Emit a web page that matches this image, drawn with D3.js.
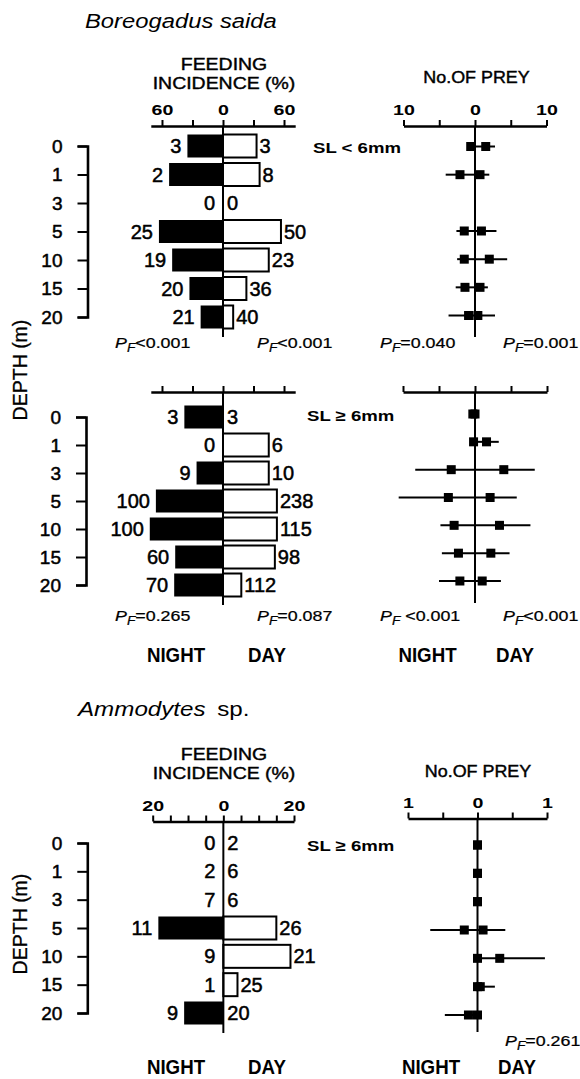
<!DOCTYPE html>
<html>
<head>
<meta charset="utf-8">
<script src="https://cdn.jsdelivr.net/npm/d3@7"></script>
<style>
  html, body { margin: 0; padding: 0; background: #fff; }
  svg { display: block; }
  text { font-family: "Liberation Sans", Arial, Helvetica, sans-serif; fill: #000; }
</style>
</head>
<body>
<svg id="chart" width="580" height="1079"></svg>
<script>
// ---------- data ----------
const depths = ["0", "1", "3", "5", "10", "15", "20"];

// Boreogadus saida, SL < 6mm
const cod1NightPct = [35, 53, 0, 63, 50, 33, 22];
const cod1DayPct   = [33, 36, 0, 57, 45, 23, 10];
const cod1NightN   = [3, 2, 0, 25, 19, 20, 21];
const cod1DayN     = [3, 8, 0, 50, 23, 36, 40];
const cod1NightPrey = [0.6, 2.1, null, 1.5, 1.5, 1.4, 0.9];
const cod1NightSE   = [0.3, 2.0, null, 1.1, 1.0, 1.3, 2.8];
const cod1DayPrey   = [1.5, 0.7, null, 0.9, 2.0, 0.7, 0.4];
const cod1DaySE     = [1.3, 1.3, null, 2.1, 2.5, 1.1, 2.4];
const cod1Stats = ["<0.001", "<0.001", "=0.040", "=0.001"];

// Boreogadus saida, SL >= 6mm
const cod2NightPct = [38, 0, 26, 66, 72, 47, 48];
const cod2DayPct   = [0, 45, 45, 53, 53, 51, 18];
const cod2NightN   = [3, 0, 9, 100, 100, 60, 70];
const cod2DayN     = [3, 6, 10, 238, 115, 98, 112];
const cod2NightPrey = [0.3, 0.2, 3.3, 3.7, 2.9, 2.3, 2.1];
const cod2NightSE   = [0, 0, 5.0, 6.9, 1.9, 2.3, 2.9];
const cod2DayPrey   = [0, 1.6, 4.0, 2.1, 3.4, 2.2, 1.0];
const cod2DaySE     = [0, 1.7, 4.3, 3.7, 4.3, 2.6, 2.6];
const cod2Stats = ["=0.265", "=0.087", " <0.001", "<0.001"];

// Ammodytes sp., SL >= 6mm
const sandNightPct = [0, 0, 0, 18.4, 0, 0, 11.1];
const sandDayPct   = [0, 0, 0, 15, 19, 4, 0];
const sandNightN   = [0, 2, 7, 11, 9, 1, 9];
const sandDayN     = [2, 6, 6, 26, 21, 25, 20];
const sandNightPrey = [0, 0, 0, 0.19, 0, 0, 0.13];
const sandNightSE   = [0, 0, 0, 0.49, 0, 0, 0.34];
const sandDayPrey   = [0, 0, 0, 0.08, 0.32, 0.04, 0];
const sandDaySE     = [0, 0, 0, 0.32, 0.65, 0.21, 0];
const sandStats = [null, null, null, "=0.261"];

// axis ticks
const feedTicksCod  = [-60, -30, 0, 30, 60];
const feedLabelsCod = [-60, 0, 60];
const preyTicksCod  = [-10, -5, 0, 5, 10];
const preyLabelsCod = [-10, 0, 10];
const feedTicksSand  = [-20, -15, -10, -5, 0, 5, 10, 15, 20];
const feedLabelsSand = [-20, 0, 20];
const preyTicksSand  = [-1, -0.5, 0, 0.5, 1];
const preyLabelsSand = [-1, 0, 1];

// ---------- drawing ----------
const svg = d3.select("#chart");
const INK = "#000";

function label(g, x, y, s, o = {}) {
  const t = g.append("text")
    .attr("transform", `translate(${x},${y}) scale(${o.sx ?? 1},1)`)
    .attr("text-anchor", o.anchor || "start")
    .style("font-size", `${o.size || 16}px`)
    .style("font-weight", o.weight || "normal")
    .style("font-style", o.italic ? "italic" : "normal")
    .text(s);
  if (o.heavy) t.style("stroke", INK).style("stroke-width", o.heavy);
  return t;
}

function statLabel(g, x, y, stat) {
  const t = g.append("text")
    .attr("transform", `translate(${x},${y}) scale(1.15,1)`)
    .style("font-size", "15.5px")
    .style("stroke", INK).style("stroke-width", 0.25);
  t.append("tspan").style("font-style", "italic").text("P");
  t.append("tspan").style("font-style", "italic").style("font-size", "12px")
    .attr("dy", 4).text("F");
  t.append("tspan").attr("dy", -4).text(stat);
}

function topAxis(g, scale, y, ticks, labels) {
  const ax = d3.axisTop(scale)
    .tickValues(ticks)
    .tickSizeInner(6)
    .tickSizeOuter(0)
    .tickPadding(5)
    .tickFormat(d => labels.includes(d) ? String(Math.abs(d)) : "");
  const a = g.append("g").attr("transform", `translate(0,${y})`).call(ax)
    .attr("font-family", null).attr("font-size", null).style("color", INK);
  a.select(".domain").attr("stroke-width", 2.6);
  a.selectAll(".tick line").attr("stroke-width", 2);
  a.selectAll(".tick text")
    .attr("transform", "scale(1.4,1)")
    .style("font-size", "14px").style("font-weight", "bold");
}

function drawPanel(p) {
  const g = svg.append("g");
  const y = d3.scalePoint().domain(depths).range(p.rows);
  const yPrey = d3.scalePoint().domain(depths).range(p.preyRows);
  const fx = d3.scaleLinear().domain(p.feedDomain).range(p.feedRange);
  const px = d3.scaleLinear().domain(p.preyDomain).range(p.preyRange);
  const barH = 23;

  // depth axis (bracket)
  const da = g.append("g").attr("transform", `translate(${p.depthX},0)`)
    .call(d3.axisLeft(y).tickSize(10).tickPadding(15))
    .attr("font-family", null).attr("font-size", null).style("color", INK);
  da.select(".domain").attr("stroke-width", 2.6);
  da.selectAll(".tick line").attr("stroke-width", 2);
  da.selectAll(".tick text").style("font-size", "19px")
    .style("stroke", INK).style("stroke-width", 0.5);

  // feeding incidence axis
  topAxis(g, fx, p.feedAxisY, p.feedTicks, p.feedLabels);

  const rows = depths.map((d, i) => ({
    d, nPct: p.nightPct[i], dPct: p.dayPct[i], nN: p.nightN[i], dN: p.dayN[i],
    nPrey: p.nightPrey[i], nSE: p.nightSE[i], dPrey: p.dayPrey[i], dSE: p.daySE[i]
  }));

  // night bars (filled)
  g.selectAll(null).data(rows.filter(r => r.nPct > 0)).join("rect")
    .attr("x", r => fx(-r.nPct)).attr("width", r => fx(0) - fx(-r.nPct))
    .attr("y", r => y(r.d) - barH / 2).attr("height", barH)
    .attr("fill", INK);
  // day bars (open)
  g.selectAll(null).data(rows.filter(r => r.dPct > 0)).join("rect")
    .attr("x", fx(0)).attr("width", r => fx(r.dPct) - fx(0))
    .attr("y", r => y(r.d) - barH / 2).attr("height", barH)
    .attr("fill", "#fff").attr("stroke", INK).attr("stroke-width", 2);

  // zero line
  g.append("line").attr("x1", fx(0)).attr("x2", fx(0))
    .attr("y1", p.feedAxisY).attr("y2", p.zeroEnd)
    .attr("stroke", INK).attr("stroke-width", 2);

  // sample sizes
  rows.forEach(r => {
    const nx = r.nPct > 0 ? fx(-r.nPct) - 6 : fx(0) - 8;
    label(g, nx, y(r.d) + 7, r.nN, { size: 20, anchor: "end", heavy: 0.5 });
    const dx = r.dPct > 0 ? fx(r.dPct) + 3 : fx(0) + 4;
    label(g, dx, y(r.d) + 7, r.dN, { size: 20, heavy: 0.5 });
  });

  // number of prey axis
  topAxis(g, px, p.preyAxisY, p.preyTicks, p.preyLabels);

  // whiskers: from zero out to mean + SE on each side
  const sq = 9;
  rows.filter(r => r.nPrey !== null).forEach(r => {
    const yy = yPrey(r.d);
    g.append("line").attr("x1", px(0)).attr("x2", px(-(r.nPrey + r.nSE)))
      .attr("y1", yy).attr("y2", yy).attr("stroke", INK).attr("stroke-width", 2);
    g.append("line").attr("x1", px(0)).attr("x2", px(r.dPrey + r.dSE))
      .attr("y1", yy).attr("y2", yy).attr("stroke", INK).attr("stroke-width", 2);
    g.append("rect").attr("x", px(-r.nPrey) - sq / 2).attr("y", yy - sq / 2)
      .attr("width", sq).attr("height", sq).attr("fill", INK);
    g.append("rect").attr("x", px(r.dPrey) - sq / 2).attr("y", yy - sq / 2)
      .attr("width", sq).attr("height", sq).attr("fill", INK);
  });
  g.append("line").attr("x1", px(0)).attr("x2", px(0))
    .attr("y1", p.preyAxisY).attr("y2", p.preyZeroEnd)
    .attr("stroke", INK).attr("stroke-width", 2);

  // test statistics
  const sx = [115, 257, 380, 503];
  p.stats.forEach((s, i) => { if (s) statLabel(g, p.statX ? p.statX[i] : sx[i], p.statY, s); });

  // size class
  label(g, p.slX, p.slY, p.sl, { size: 15.5, weight: "bold", sx: 1.2 });

  if (p.nightDayY) {
    [[176, "NIGHT"], [267, "DAY"], [p.preyNightX, "NIGHT"], [p.preyDayX, "DAY"]]
      .forEach(([x, s]) => label(g, x, p.nightDayY, s,
        { size: 19.5, weight: "bold", anchor: "middle", sx: 0.96 }));
  }
}

drawPanel({
  nightPct: cod1NightPct, dayPct: cod1DayPct, nightN: cod1NightN, dayN: cod1DayN,
  nightPrey: cod1NightPrey, nightSE: cod1NightSE, dayPrey: cod1DayPrey, daySE: cod1DaySE,
  stats: cod1Stats, statY: 348,
  rows: [146, 317], preyRows: [146.5, 315.5], depthX: 87.5,
  feedAxisY: 126, zeroEnd: 337,
  feedDomain: [-71, 71], feedRange: [150.8, 295.2], feedTicks: feedTicksCod, feedLabels: feedLabelsCod,
  preyAxisY: 126, preyZeroEnd: 337,
  preyDomain: [-10, 10], preyRange: [403.5, 546.5], preyTicks: preyTicksCod, preyLabels: preyLabelsCod,
  sl: "SL < 6mm", slX: 313, slY: 153
});

drawPanel({
  nightPct: cod2NightPct, dayPct: cod2DayPct, nightN: cod2NightN, dayN: cod2DayN,
  nightPrey: cod2NightPrey, nightSE: cod2NightSE, dayPrey: cod2DayPrey, daySE: cod2DaySE,
  stats: cod2Stats, statY: 621,
  rows: [417, 585], preyRows: [414, 581], depthX: 86,
  feedAxisY: 392, zeroEnd: 605,
  feedDomain: [-71, 71], feedRange: [150.8, 295.2], feedTicks: feedTicksCod, feedLabels: [],
  preyAxisY: 392, preyZeroEnd: 603,
  preyDomain: [-10, 10], preyRange: [403, 547], preyTicks: preyTicksCod, preyLabels: [],
  sl: "SL \u2265 6mm", slX: 307, slY: 421,
  nightDayY: 662, preyNightX: 427.5, preyDayX: 515
});

drawPanel({
  nightPct: sandNightPct, dayPct: sandDayPct, nightN: sandNightN, dayN: sandDayN,
  nightPrey: sandNightPrey, nightSE: sandNightSE, dayPrey: sandDayPrey, daySE: sandDaySE,
  stats: sandStats, statY: 1046, statX: [115, 257, 380, 505],
  rows: [843, 1013], preyRows: [845, 1015], depthX: 87.3,
  feedAxisY: 821.5, zeroEnd: 1033,
  feedDomain: [-20, 20], feedRange: [152.7, 294], feedTicks: feedTicksSand, feedLabels: feedLabelsSand,
  preyAxisY: 818.5, preyZeroEnd: 1032,
  preyDomain: [-1, 1], preyRange: [408, 547], preyTicks: preyTicksSand, preyLabels: preyLabelsSand,
  sl: "SL \u2265 6mm", slX: 307, slY: 851,
  nightDayY: 1074, preyNightX: 431, preyDayX: 517
});

// titles and axis names
label(svg, 85, 28, "Boreogadus saida", { size: 19.5, italic: true, sx: 1.22 });
const t2 = svg.append("text").attr("transform", "translate(78,716) scale(1.24,1)")
  .style("font-size", "19.5px");
t2.append("tspan").style("font-style", "italic").text("Ammodytes");
t2.append("tspan").attr("dx", 4).text(" sp.");

[[70, 89], [760, 779]].forEach(([a, b]) => {
  label(svg, 224, a, "FEEDING", { size: 16.5, anchor: "middle", sx: 1.18, heavy: 0.4 });
  label(svg, 224, b, "INCIDENCE (%)", { size: 16.5, anchor: "middle", sx: 1.18, heavy: 0.4 });
});
label(svg, 476.5, 83, "No.OF PREY", { size: 16, anchor: "middle", sx: 1.12, heavy: 0.4 });
label(svg, 478, 777, "No.OF PREY", { size: 16, anchor: "middle", sx: 1.12, heavy: 0.4 });

[370, 924].forEach(cy => {
  svg.append("text")
    .attr("transform", `translate(27,${cy}) rotate(-90)`)
    .attr("text-anchor", "middle")
    .style("font-size", "19.5px")
    .style("stroke", INK).style("stroke-width", 0.3)
    .text("DEPTH (m)");
});
</script>
</body>
</html>
